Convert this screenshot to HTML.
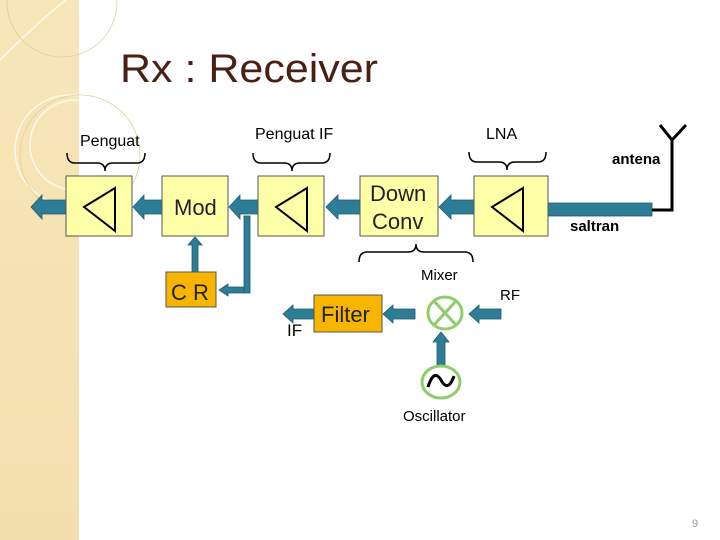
<!DOCTYPE html>
<html><head><meta charset="utf-8"><style>
html,body{margin:0;padding:0;background:#fff}
svg{display:block}
text{font-family:"Liberation Sans",sans-serif}
</style></head><body>
<svg width="720" height="540" viewBox="0 0 720 540" xmlns="http://www.w3.org/2000/svg">
<defs>
<linearGradient id="bg" x1="0" y1="0" x2="0" y2="1">
<stop offset="0" stop-color="#f7e6b8"/><stop offset="1" stop-color="#f3dfae"/>
</linearGradient>
</defs>
<rect x="0" y="0" width="79" height="540" fill="url(#bg)"/>
<g fill="none" stroke="#fff" stroke-width="1.5" opacity="0.8">
<path d="M0 60 Q40 20 66 0"/>
<circle cx="70" cy="150" r="55"/>
<circle cx="75" cy="145" r="45"/>
</g>
<g fill="none" stroke="#e0cfa0" stroke-width="0.8">
<circle cx="62" cy="2" r="55"/>
<circle cx="80" cy="155" r="60"/>
</g>
<text x="120" y="82" font-size="40" fill="#4a1f14" textLength="258" lengthAdjust="spacingAndGlyphs">Rx : Receiver</text>

<g fill="#2e7d96" stroke="#1d5a6e" stroke-width="0.8">
<!-- main line arrows -->
<polygon points="66,200 42,200 42,195 31,207 42,219 42,214 66,214"/>
<polygon points="162,200 144,200 144,195 133,207 144,219 144,214 162,214"/>
<polygon points="258,200 240,200 240,195 229,207 240,219 240,214 258,214"/>
<polygon points="360,200 338,200 338,195 326,207 338,219 338,214 360,214"/>
<polygon points="474,200 451,200 451,195 439,207 451,219 451,214 474,214"/>
<rect x="548" y="203" width="104" height="13"/>
<!-- branch to CR -->
<rect x="244" y="216" width="6" height="77"/>
<polygon points="244,287 228,287 228,284 219,290 228,296 228,293 244,293"/>
<!-- CR up to Mod -->
<polygon points="192,272 192,245 188,245 195,237 202,245 198,245 198,272"/>
<!-- IF out of filter -->
<polygon points="314,208 298,208 298,0 0,0" style="display:none"/>
<polygon points="314,309 293,309 293,305 283,314 293,323 293,319 314,319"/>
<!-- mixer to filter -->
<polygon points="415,309 393,309 393,305 383,314 393,323 393,319 415,319"/>
<!-- RF to mixer -->
<polygon points="501,309 479,309 479,305 469,314 479,323 479,319 501,319"/>
<!-- osc to mixer -->
<polygon points="437,365 437,342 433,342 441,332 449,342 445,342 445,365"/>
</g>

<g fill="#ffffa8" stroke="#555" stroke-width="1">
<rect x="66" y="176" width="66" height="60"/>
<rect x="162" y="176" width="66" height="60"/>
<rect x="258" y="176" width="66" height="60"/>
<rect x="360" y="176" width="78" height="60"/>
<rect x="474" y="176" width="74" height="60"/>
</g>
<g fill="none" stroke="#000" stroke-width="2">
<polygon points="84,207 115,188 115,231"/>
<polygon points="276,207 307,188 307,231"/>
<polygon points="492,207 523,188 523,231"/>
</g>
<g fill="#f7b500" stroke="#555" stroke-width="1">
<rect x="166" y="272" width="50" height="35"/>
<rect x="314" y="295" width="68" height="37"/>
</g>
<text x="174" y="215" font-size="22" fill="#222" font-family="DejaVu Sans">Mod</text>
<text x="370" y="201" font-size="22" fill="#222" font-family="DejaVu Sans">Down</text>
<text x="372" y="229" font-size="22" fill="#222" font-family="DejaVu Sans">Conv</text>
<text x="171" y="300" font-size="22" fill="#222" font-family="DejaVu Sans">C R</text>
<text x="321" y="322" font-size="22" fill="#222" font-family="DejaVu Sans">Filter</text>

<!-- mixer/osc -->
<ellipse cx="445" cy="313" rx="17" ry="16" fill="none" stroke="#8fcc6e" stroke-width="3"/>
<path d="M434 301 L456 325 M456 301 L434 325" stroke="#8fcc6e" stroke-width="3"/>
<ellipse cx="441" cy="382" rx="19" ry="16" fill="none" stroke="#8fcc6e" stroke-width="3"/>
<path d="M428 387 Q434 368 441 380 Q448 393 454 376" fill="none" stroke="#000" stroke-width="3"/>

<!-- antenna -->
<path d="M652 210 L672 210 L672 140 M660 125 L672 140 L686 125" fill="none" stroke="#000" stroke-width="3"/>

<!-- braces -->
<g fill="none" stroke="#000" stroke-width="1.5">
<path d="M67 153 Q67 163 75 163 L97 163 Q105 163 105 171 Q105 163 113 163 L137 163 Q145 163 145 153"/>
<path d="M253 153 Q253 163 261 163 L284 163 Q292 163 292 171 Q292 163 300 163 L322 163 Q330 163 330 153"/>
<path d="M469 152 Q469 162 477 162 L499 162 Q507 162 507 170 Q507 162 515 162 L538 162 Q546 162 546 152"/>
<path d="M359 262 Q359 252 367 252 L408 252 Q416 252 416 244 Q416 252 424 252 L465 252 Q473 252 473 262"/>
</g>

<g font-size="16" fill="#000">
<text x="80" y="146">Penguat</text>
<text x="255" y="139">Penguat IF</text>
<text x="486" y="139">LNA</text>
</g>
<g font-family="Liberation Serif,serif" font-weight="bold" font-size="15" fill="#000">
<text x="612" y="164">antena</text>
<text x="570" y="231">saltran</text>
</g>
<g font-family="DejaVu Sans,sans-serif" font-size="15" fill="#000">
<text x="421" y="280">Mixer</text>
<text x="500" y="300">RF</text>
<text x="403" y="421">Oscillator</text>
</g>
<text x="287" y="336" font-family="Liberation Serif,serif" font-size="17" fill="#000">IF</text>
<text x="692" y="527" font-size="11" fill="#999">9</text>
</svg>
</body></html>
